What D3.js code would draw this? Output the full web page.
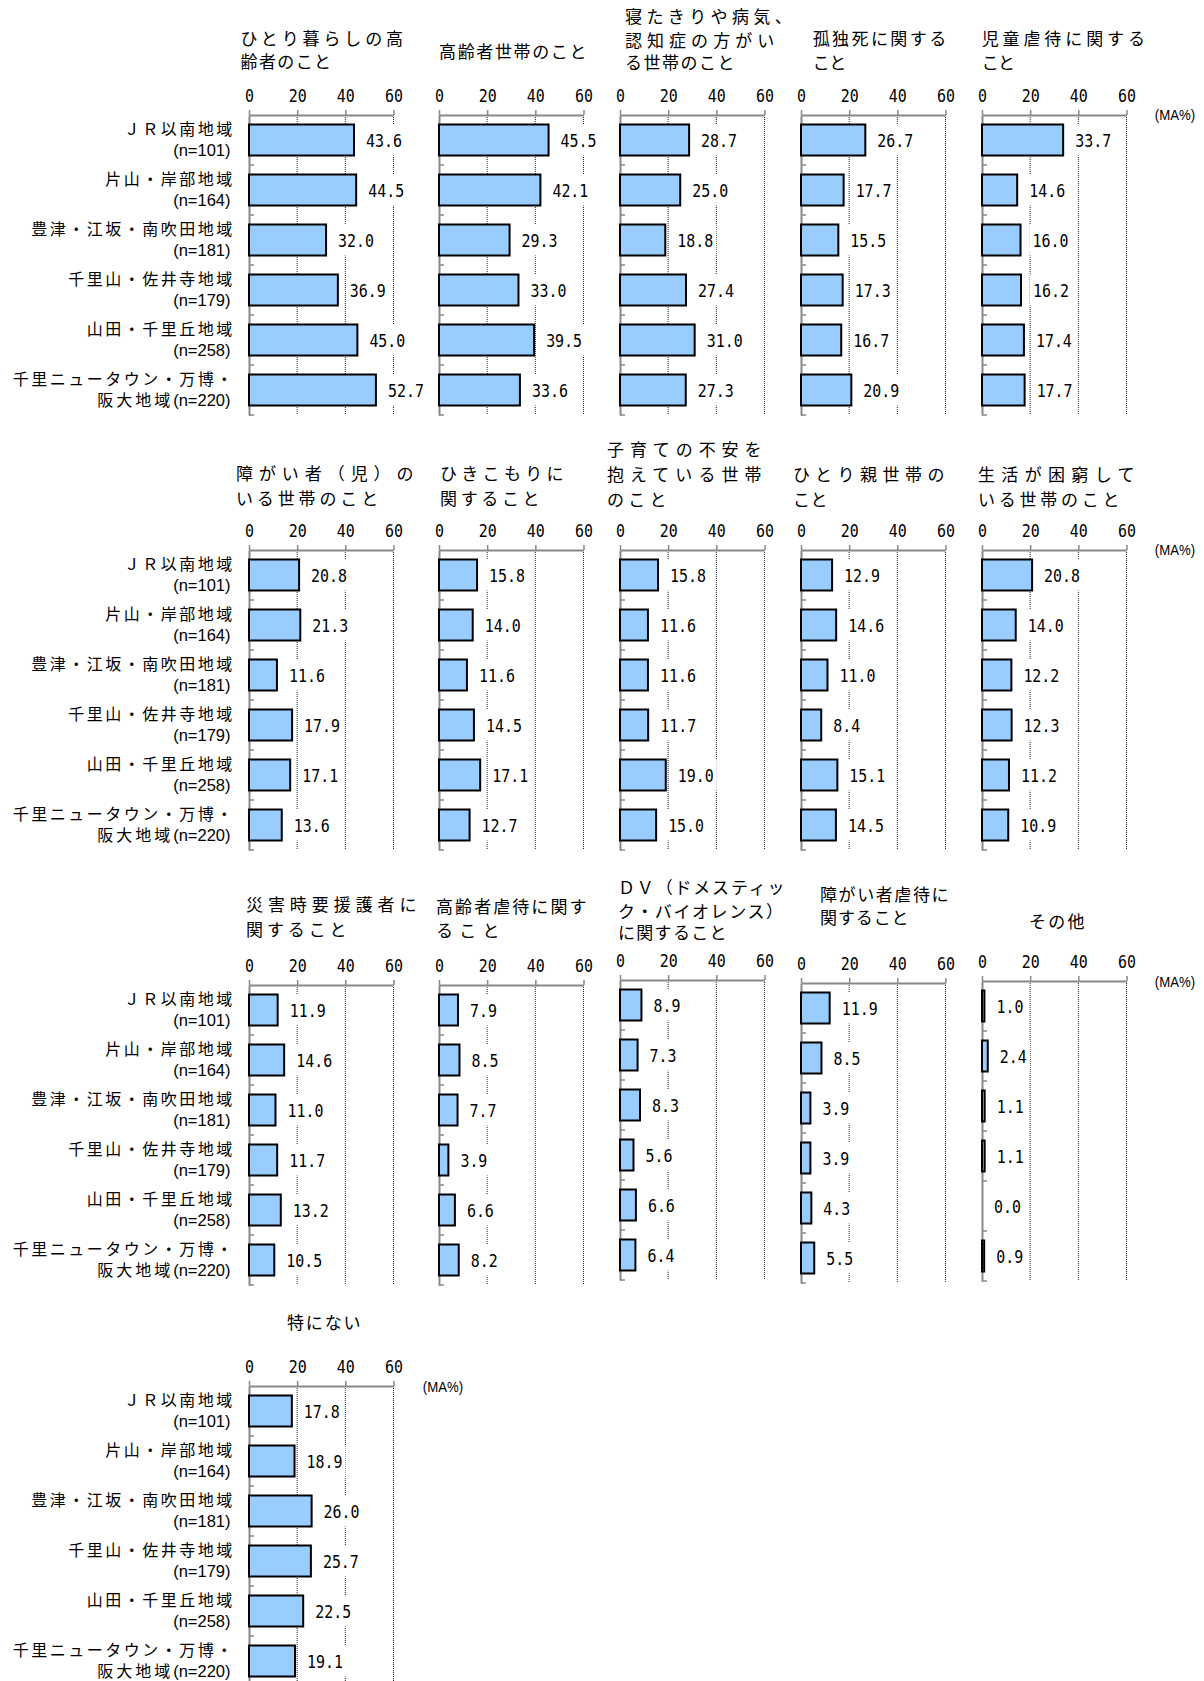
<!DOCTYPE html>
<html>
<head>
<meta charset="utf-8">
<script src="https://cdn.jsdelivr.net/npm/d3@7"></script>
<style>
  body { margin: 0; background: #fff; }
</style>
</head>
<body>
<div id="chart"></div>
<script>
// category labels (two lines each), sample sizes
var regionLine1 = ["ＪＲ以南地域", "片山・岸部地域", "豊津・江坂・南吹田地域", "千里山・佐井寺地域", "山田・千里丘地域", "千里ニュータウン・万博・"];
var regionLine2 = ["", "", "", "", "", "阪大地域"];
var regionN = [101, 164, 181, 179, 258, 220];

var xTicks = [0, 20, 40, 60];

// values (MA%) per item, in region order
var livingAlone       = [43.6, 44.5, 32.0, 36.9, 45.0, 52.7];
var elderlyHouseholds = [45.5, 42.1, 29.3, 33.0, 39.5, 33.6];
var bedriddenDementia = [28.7, 25.0, 18.8, 27.4, 31.0, 27.3];
var lonelyDeath       = [26.7, 17.7, 15.5, 17.3, 16.7, 20.9];
var childAbuse        = [33.7, 14.6, 16.0, 16.2, 17.4, 17.7];
var disabledHouseholds= [20.8, 21.3, 11.6, 17.9, 17.1, 13.6];
var withdrawal        = [15.8, 14.0, 11.6, 14.5, 17.1, 12.7];
var childRearing      = [15.8, 11.6, 11.6, 11.7, 19.0, 15.0];
var singleParent      = [12.9, 14.6, 11.0, 8.4, 15.1, 14.5];
var poverty           = [20.8, 14.0, 12.2, 12.3, 11.2, 10.9];
var disasterSupport   = [11.9, 14.6, 11.0, 11.7, 13.2, 10.5];
var elderAbuse        = [7.9, 8.5, 7.7, 3.9, 6.6, 8.2];
var domesticViolence  = [8.9, 7.3, 8.3, 5.6, 6.6, 6.4];
var disabledAbuse     = [11.9, 8.5, 3.9, 3.9, 4.3, 5.5];
var other             = [1.0, 2.4, 1.1, 1.1, 0.0, 0.9];
var nothing           = [17.8, 18.9, 26.0, 25.7, 22.5, 19.1];

var titles = [
  ["ひとり暮らしの高", "齢者のこと"],
  ["高齢者世帯のこと"],
  ["寝たきりや病気、", "認知症の方がい", "る世帯のこと"],
  ["孤独死に関する", "こと"],
  ["児童虐待に関する", "こと"],
  ["障がい者（児）の", "いる世帯のこと"],
  ["ひきこもりに", "関すること"],
  ["子育ての不安を", "抱えている世帯", "のこと"],
  ["ひとり親世帯の", "こと"],
  ["生活が困窮して", "いる世帯のこと"],
  ["災害時要援護者に", "関すること"],
  ["高齢者虐待に関す", "ること"],
  ["ＤＶ（ドメスティッ", "ク・バイオレンス）", "に関すること"],
  ["障がい者虐待に", "関すること"],
  ["その他"],
  ["特にない"]
];

var series = [livingAlone, elderlyHouseholds, bedriddenDementia, lonelyDeath, childAbuse,
              disabledHouseholds, withdrawal, childRearing, singleParent, poverty,
              disasterSupport, elderAbuse, domesticViolence, disabledAbuse, other,
              nothing];

// layout
var colX = [249, 439, 620, 801, 982];
var rowY = [115, 550, 985, 1386];
var rowShift = [[0, 0, 0, 0, 0], [0, 0, 0, 0, 0], [0, 0, -5, -2, -4], [0]];
var titleX = [240.5, 439, 625, 812.7, 981.7, 236, 440, 607, 793, 978, 246, 436, 618, 820, 1029, 287];
var titleY = [[39.3, 62.3], [51.7], [16.7, 40.7, 63.3], [39.3, 63.3], [39.3, 63.3],
              [474, 499], [474, 499], [450, 475, 500], [475, 500], [475, 500],
              [905, 930], [907, 931], [888, 912, 933], [895, 918], [921.7],
              [1323]];
var titleW = [[161, 89], [146], [156.7, 147.7, 108], [132, 32], [161.7, 31.7],
              [176, 140.7], [122, 98], [153, 153, 58], [150, 33], [155, 140],
              [169, 99], [149, 62], [165, 155, 107], [127, 87], [54],
              [72]];
var maPos = [[1175, 115], [1175, 550], [1175, 982], [443, 1387]];

var numFont = "'DejaVu Sans Mono', monospace";
var numScale = "scale(0.83,1)";

var svg = d3.select("#chart").append("svg")
    .attr("width", 1204)
    .attr("height", 1681)
    .style("font-family", "'Noto Sans CJK JP', sans-serif")
    .style("background", "#fff");

var x = d3.scaleLinear()
    .domain([0, 60])
    .range([0, 144.5]);

var y = d3.scaleBand()
    .domain(d3.range(regionLine1.length))
    .range([0, 300])
    .paddingInner(0.38)
    .paddingOuter(0.19);

// titles
titles.forEach(function(lines, k) {
  lines.forEach(function(line, j) {
    var last = line.slice(-1);
    var trail = (last == "、" || last == "）") ? 10 : 1.5;
    svg.append("text")
      .attr("x", titleX[k])
      .attr("y", titleY[k][j] + 6)
      .attr("textLength", titleW[k][j] + trail)
      .attr("lengthAdjust", "spacing")
      .style("font-size", "17px")
      .style("fill", "#000")
      .text(line);
  });
});

// (MA%) labels
maPos.forEach(function(p) {
  svg.append("text")
    .attr("transform", "translate(" + p[0] + "," + (p[1] + 5) + ") scale(0.88,1)")
    .style("text-anchor", "middle")
    .style("font-family", "'Liberation Sans', sans-serif")
    .style("font-size", "15px")
    .text("(MA%)");
});

series.forEach(function(values, k) {
  var row = Math.floor(k / 5), col = k % 5;
  var g = svg.append("g")
      .attr("transform", "translate(" + colX[col] + "," + (rowY[row] + rowShift[row][col]) + ")");

  // dotted gridlines
  g.selectAll(".grid")
    .data(xTicks.slice(1))
    .enter().append("line")
    .attr("class", "grid")
    .attr("x1", function(d) { return x(d); })
    .attr("x2", function(d) { return x(d); })
    .attr("y1", 0)
    .attr("y2", y.range()[1])
    .style("stroke", "#222")
    .style("stroke-width", 1)
    .style("stroke-dasharray", "1,1");

  // top axis
  var xa = g.append("g")
    .call(d3.axisTop(x).tickValues(xTicks).tickSize(5).tickSizeOuter(0).tickPadding(8));
  xa.select(".domain").style("stroke", "#888").style("stroke-width", 2);
  xa.selectAll(".tick line").style("stroke", "#888").style("stroke-width", 1.5);
  xa.selectAll(".tick text")
    .attr("transform", numScale)
    .attr("y", -13)
    .style("font-family", numFont)
    .style("font-size", "18px")
    .style("fill", "#000");

  // left axis
  var ya = g.append("g")
    .call(d3.axisLeft(y).tickSize(0).tickSizeOuter(0).tickFormat(""));
  ya.select(".domain").style("stroke", "#888").style("stroke-width", 2);
  g.selectAll(".cattick")
    .data(d3.range(1, values.length + 1))
    .enter().append("line")
    .attr("class", "cattick")
    .attr("x1", 0)
    .attr("x2", 5)
    .attr("y1", function(i) { return i * y.step(); })
    .attr("y2", function(i) { return i * y.step(); })
    .style("stroke", "#888")
    .style("stroke-width", 1.5);

  // white boxes behind value labels
  g.selectAll(".lblbg")
    .data(values)
    .enter().append("rect")
    .attr("class", "lblbg")
    .attr("x", function(d) { return x(d) + 9; })
    .attr("y", function(d, i) { return y(i); })
    .attr("width", function(d) { return d.toFixed(1).length * 9 + 6; })
    .attr("height", y.bandwidth())
    .style("fill", "#fff");

  // bars (a zero value draws nothing)
  g.selectAll(".bar")
    .data(values)
    .enter().append("rect")
    .attr("class", "bar")
    .attr("x", 0)
    .attr("y", function(d, i) { return y(i); })
    .attr("width", function(d) { return x(d); })
    .attr("height", y.bandwidth())
    .style("fill", "#99CCFF")
    .style("stroke", "#000")
    .style("stroke-width", function(d) { return d > 0 ? 2 : 0; });

  // value labels
  g.selectAll(".val")
    .data(values)
    .enter().append("text")
    .attr("class", "val")
    .attr("transform", function(d, i) {
      return "translate(" + (x(d) + 12) + "," + (y(i) + y.bandwidth() / 2 + 6.5) + ") " + numScale;
    })
    .style("font-family", numFont)
    .style("font-size", "18px")
    .style("fill", "#000")
    .text(function(d) { return d.toFixed(1); });

  // category labels only on the first panel of each row
  if (col == 0) {
    var lbl = g.selectAll(".cat")
      .data(regionLine1)
      .enter().append("g")
      .attr("class", "cat")
      .attr("transform", function(d, i) { return "translate(0," + (y(i) + y.bandwidth() / 2) + ")"; });

    lbl.append("text")
      .attr("x", -14.3)
      .attr("y", -5)
      .style("text-anchor", "end")
      .style("font-size", "16px")
      .style("letter-spacing", "2.5px")
      .text(function(d) { return d; });

    var l2 = lbl.append("text")
      .attr("x", -18.5)
      .attr("y", 16)
      .style("text-anchor", "end");
    l2.append("tspan")
      .style("font-size", "16px")
      .style("letter-spacing", "3px")
      .text(function(d, i) { return regionLine2[i]; });
    l2.append("tspan")
      .style("font-family", "'Liberation Sans', sans-serif")
      .style("font-size", "16.5px")
      .style("letter-spacing", "0px")
      .text(function(d, i) { return "(n=" + regionN[i] + ")"; });
  }
});
</script>
</body>
</html>
